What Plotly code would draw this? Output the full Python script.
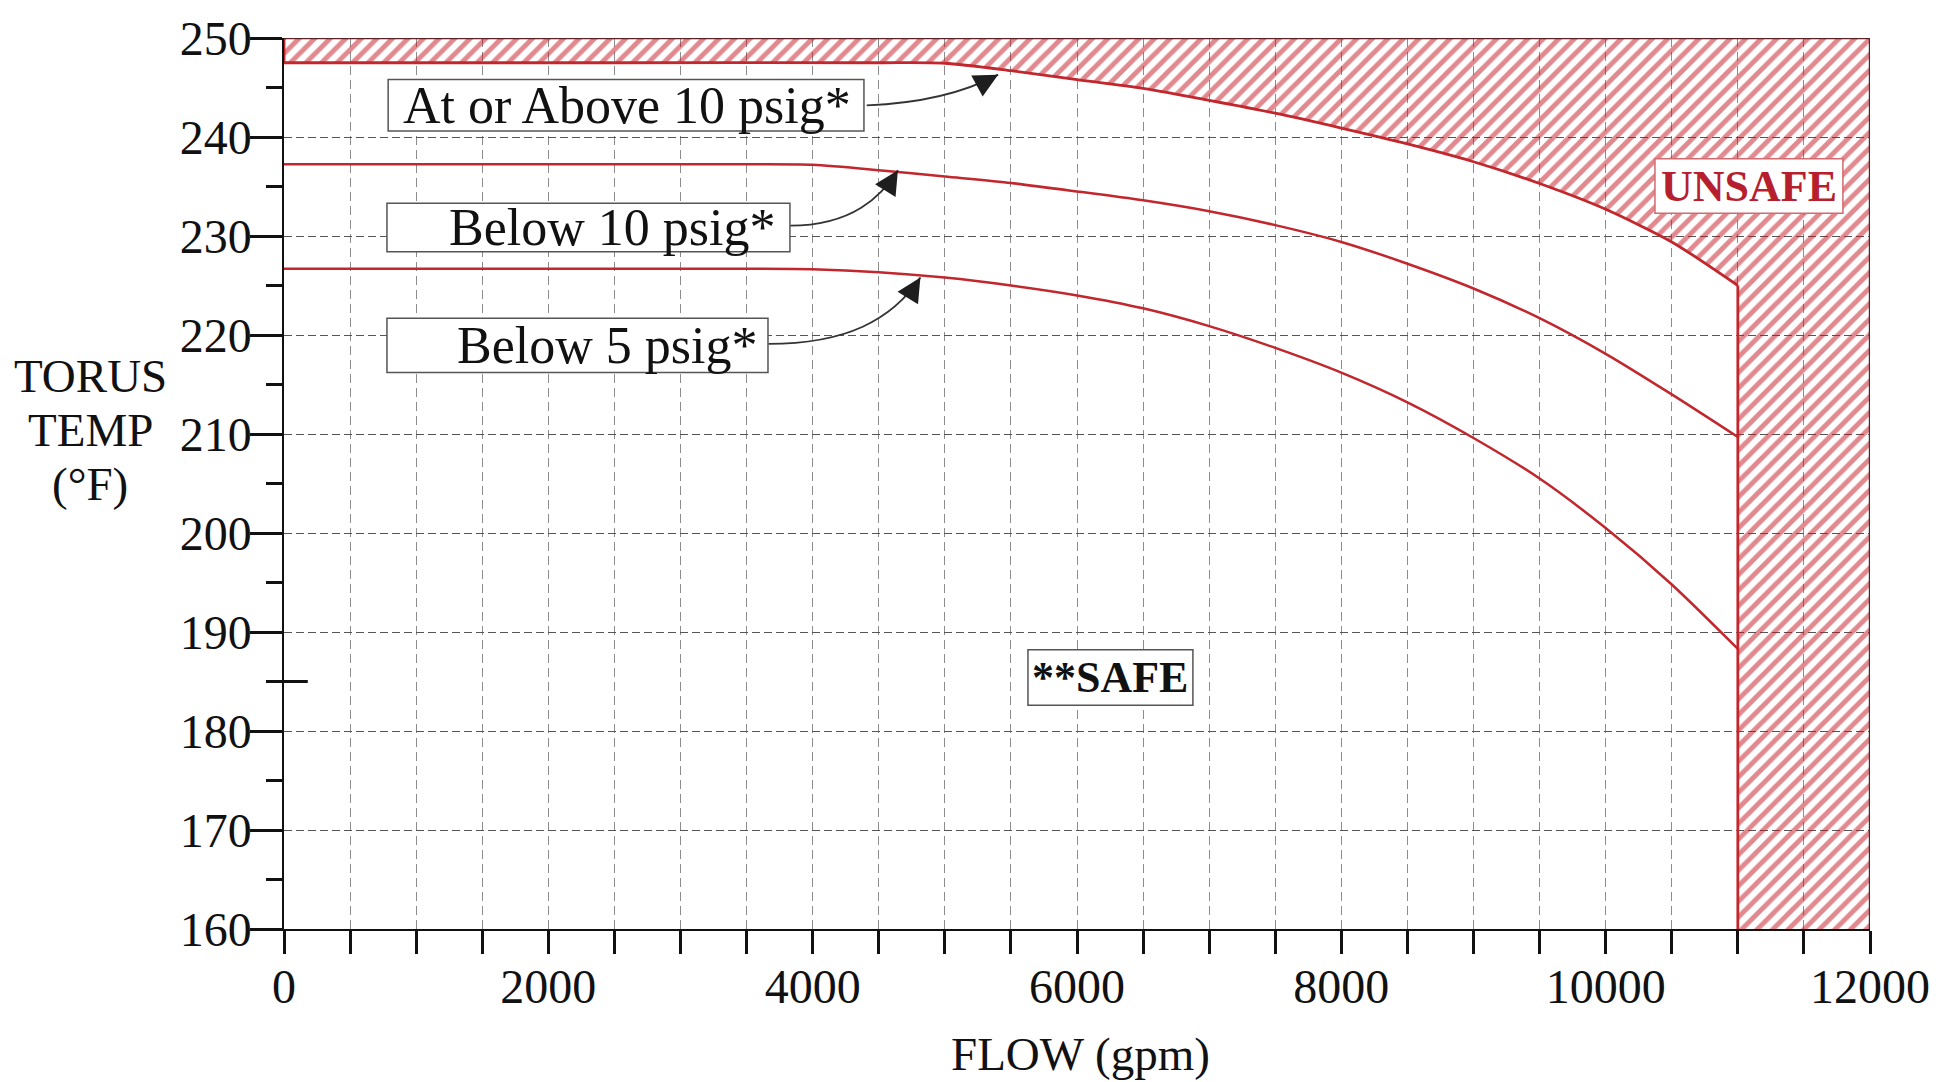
import plotly.graph_objects as go

# ---------------- data ----------------
flow_top = [0, 2500, 4500, 5000, 5500, 6000, 6500, 7000, 7500, 8000, 8500, 9000, 9500, 10000, 10500, 11000]
temp_top = [247.5, 247.5, 247.5, 247.45, 246.7, 245.8, 244.9, 243.7, 242.4, 240.9, 239.3, 237.5, 235.3, 232.7, 229.4, 225.0]

flow_curve = [0, 2000, 3500, 4000, 4500, 5000, 5500, 6000, 6500, 7000, 7500, 8000, 8500, 9000, 9500, 10000, 10500, 11000]
temp_below10 = [237.25, 237.25, 237.25, 237.2, 236.65, 236.0, 235.35, 234.5, 233.6, 232.5, 231.1, 229.4, 227.2, 224.7, 221.7, 218.1, 214.0, 209.7]
temp_below5 = [226.7, 226.7, 226.7, 226.65, 226.35, 225.8, 225.0, 224.0, 222.7, 220.9, 218.7, 216.2, 213.2, 209.6, 205.5, 200.5, 194.8, 188.3]

flow_limit = 11000
flow_max = 12000
temp_min = 160
temp_max = 250

x_ticks = [0, 2000, 4000, 6000, 8000, 10000, 12000]
y_ticks = [160, 170, 180, 190, 200, 210, 220, 230, 240, 250]

labels = ["At or Above 10 psig*", "Below 10 psig*", "Below 5 psig*"]
# box extents (flow0, flow1, temp0, temp1) and text anchor
label_boxes = [(788, 4388, 240.6, 245.8), (779, 3828, 228.4, 233.3), (779, 3662, 216.2, 221.7)]
label_text = [(2592, 243.2, "center"), (3730, 230.85, "right"), (3596, 218.95, "right")]

unsafe_box = (10373, 11795, 232.3, 237.8)
safe_box = (5629, 6877, 182.6, 188.2)

# ---------------- styles ----------------
RED = "#c1272d"
HATCH = "#c3141f"
DARK = "#111111"
SERIF = "Liberation Serif"

fig = go.Figure()

# hatched unsafe region
hx = [0, flow_max, flow_max, flow_limit] + flow_top[::-1]
hy = [temp_max, temp_max, temp_min, temp_min] + temp_top[::-1]
fig.add_trace(go.Scatter(
    x=hx, y=hy, mode="lines", fill="toself",
    fillcolor="rgba(255,255,255,0)",
    fillpattern=dict(shape="/", fgcolor=HATCH, bgcolor="rgba(255,255,255,0)",
                     size=11, solidity=0.45),
    line=dict(width=0), hoverinfo="skip", showlegend=False))

# unsafe boundary curve (At or Above 10 psig)
fig.add_trace(go.Scatter(x=flow_top, y=temp_top, mode="lines",
                         line=dict(color=RED, width=2.8, shape="spline", smoothing=0.7),
                         showlegend=False, hoverinfo="skip"))
fig.add_trace(go.Scatter(x=[flow_limit, flow_limit], y=[temp_top[-1], temp_min], mode="lines",
                         line=dict(color=RED, width=2.8), showlegend=False, hoverinfo="skip"))
fig.add_trace(go.Scatter(x=[0, 0], y=[temp_top[0], temp_max], mode="lines",
                         line=dict(color=RED, width=2.8), showlegend=False, hoverinfo="skip"))
# outer edge of unsafe region
fig.add_trace(go.Scatter(x=[0, flow_max, flow_max], y=[temp_max, temp_max, temp_min], mode="lines",
                         line=dict(color="#5e2226", width=2.4), showlegend=False, hoverinfo="skip"))

# below 10 psig / below 5 psig curves
for ty in (temp_below10, temp_below5):
    fig.add_trace(go.Scatter(x=flow_curve, y=ty, mode="lines",
                             line=dict(color=RED, width=2.5, shape="spline", smoothing=0.7),
                             showlegend=False, hoverinfo="skip"))

# ---------------- curved leader arrows ----------------
arrows = [
    ((4409, 243.2), (4800, 243.4), (5150, 244.5), (5403, 246.3), (-13, 7)),
    ((3830, 231.05), (4300, 231.05), (4520, 234.0), (4645, 236.65), (-8, 13)),
    ((3665, 219.1), (4250, 219.1), (4600, 221.5), (4815, 225.8), (-8, 13)),
]
for p0, c1, c2, p3, (ax, ay) in arrows:
    fig.add_shape(type="path", xref="x", yref="y",
                  path=f"M {p0[0]},{p0[1]} C {c1[0]},{c1[1]} {c2[0]},{c2[1]} {p3[0]},{p3[1]}",
                  line=dict(color="#333333", width=1.8))
    fig.add_annotation(x=p3[0], y=p3[1], ax=ax, ay=ay, text="", showarrow=True,
                       arrowhead=2, arrowsize=3.0, arrowwidth=1.6, arrowcolor="#1e1e1e")

# extra long tick at 185
fig.add_shape(type="line", xref="x", yref="y", x0=0, x1=180, y0=185, y1=185,
              line=dict(color=DARK, width=3))

# ---------------- label boxes ----------------
for (x0, x1, y0, y1) in label_boxes + [safe_box]:
    fig.add_shape(type="rect", xref="x", yref="y", x0=x0, x1=x1, y0=y0, y1=y1,
                  fillcolor="white", line=dict(color="#555555", width=1.5))
fig.add_shape(type="rect", xref="x", yref="y", x0=unsafe_box[0], x1=unsafe_box[1],
              y0=unsafe_box[2], y1=unsafe_box[3],
              fillcolor="white", line=dict(color="#d26a70", width=1.5))

for text, (tx, ty, al) in zip(labels, label_text):
    fig.add_annotation(x=tx, y=ty, text=text, showarrow=False,
                       font=dict(family=SERIF, size=52, color=DARK),
                       xanchor=al, yanchor="middle")

fig.add_annotation(x=(unsafe_box[0] + unsafe_box[1]) / 2, y=(unsafe_box[2] + unsafe_box[3]) / 2,
                   text="<b>UNSAFE</b>", showarrow=False,
                   font=dict(family=SERIF, size=44, color="#b71f2e"),
                   xanchor="center", yanchor="middle")
fig.add_annotation(x=(safe_box[0] + safe_box[1]) / 2, y=(safe_box[2] + safe_box[3]) / 2,
                   text="<b>**SAFE</b>", showarrow=False,
                   font=dict(family=SERIF, size=44, color=DARK),
                   xanchor="center", yanchor="middle")

# axis titles
for txt, yy in zip(["TORUS", "TEMP", "(°F)"], [215.9, 210.4, 204.9]):
    fig.add_annotation(xref="paper", yref="y", x=-0.1223, y=yy, text=txt, showarrow=False,
                       font=dict(family=SERIF, size=47, color=DARK),
                       xanchor="center", yanchor="middle")
fig.add_annotation(xref="x", yref="paper", x=6030, y=-0.1404, text="FLOW (gpm)", showarrow=False,
                   font=dict(family=SERIF, size=47, color=DARK),
                   xanchor="center", yanchor="middle")

fig.update_layout(
    width=1953, height=1082,
    margin=dict(l=284, r=83, t=28, b=153),
    paper_bgcolor="white", plot_bgcolor="white",
    showlegend=False,
    xaxis=dict(range=[0, flow_max], tickvals=x_ticks, ticktext=[str(v) for v in x_ticks],
               ticks="outside", ticklen=23, tickwidth=2.5, tickcolor=DARK,
               ticklabelstandoff=-9,
               showline=True, linecolor=DARK, linewidth=2, zeroline=False,
               showgrid=True, gridcolor="#8c8c8c", gridwidth=1, griddash="9px,5px",
               tickfont=dict(family=SERIF, size=48, color=DARK),
               minor=dict(dtick=500, tick0=0, ticks="outside", ticklen=23, tickwidth=2.5,
                          tickcolor=DARK, showgrid=True, gridcolor="#8c8c8c",
                          gridwidth=1, griddash="9px,5px")),
    yaxis=dict(range=[temp_min, temp_max], tickvals=y_ticks, ticktext=[str(v) for v in y_ticks],
               ticks="outside", ticklen=32, tickwidth=3, tickcolor=DARK,
               ticklabelstandoff=-11,
               showline=True, linecolor=DARK, linewidth=1.5, zeroline=False,
               showgrid=True, gridcolor="#555555", gridwidth=1.4, griddash="8px,4px",
               tickfont=dict(family=SERIF, size=48, color=DARK),
               minor=dict(dtick=5, tick0=160, ticks="outside", ticklen=16, tickwidth=3,
                          tickcolor=DARK, showgrid=False)),
)

fig.write_html("out.html")
